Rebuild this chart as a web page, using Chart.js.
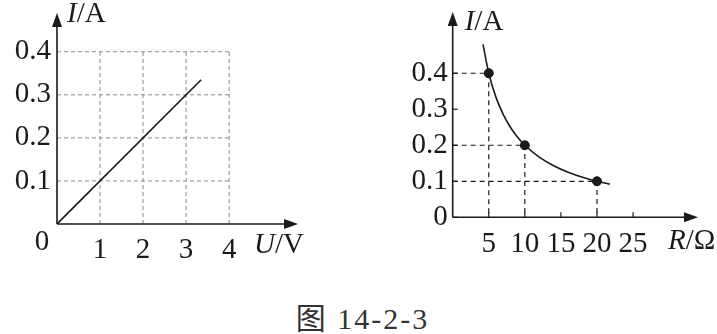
<!DOCTYPE html>
<html>
<head>
<meta charset="utf-8">
<script src="https://cdn.jsdelivr.net/npm/chart.js@4"></script>
<style>
  body { margin: 0; background: #fff; width: 717px; height: 334px; position: relative; overflow: hidden; }
  canvas { position: absolute; top: 0; }
  #left { left: 0; }
  #right { left: 380px; }
  #caption { position: absolute; left: 0; width: 717px; top: 294px; text-align: center; font: 30px "Liberation Serif", "Noto Sans CJK SC", serif; color: #333; letter-spacing: 2px; padding-left: 4px; }
</style>
</head>
<body>
<canvas id="left" width="340" height="280"></canvas>
<canvas id="right" width="337" height="280"></canvas>
<div id="caption">图 14-2-3</div>
<script>
// left chart: I-U, straight line through origin
var uTicks = [1, 2, 3, 4];
var iTicksL = [0.1, 0.2, 0.3, 0.4];
var lineU = [0, 3.35];
var lineI = [0, 0.335];

// right chart: I-R, curve with three marked points
var rTicks = [5, 10, 15, 20, 25];
var iTicksR = [0, 0.1, 0.2, 0.3, 0.4];
var pointR = [5, 10, 20];
var pointI = [0.4, 0.2, 0.1];
var curveR = [4.2, 5, 6, 7, 8, 9, 10, 12, 14, 16, 18, 20, 21.8];
var curveI = [0.48, 0.4, 0.333, 0.286, 0.25, 0.222, 0.2, 0.167, 0.143, 0.125, 0.111, 0.1, 0.092];

var FONT = '"Liberation Serif", "Times New Roman", serif';
var INK = '#1a1a1a';
var FS = 29;

function pts(xs, ys) {
  return xs.map(function (x, i) { return {x: x, y: ys[i]}; });
}

function line(ctx, x1, y1, x2, y2) {
  ctx.beginPath();
  ctx.moveTo(x1, y1);
  ctx.lineTo(x2, y2);
  ctx.stroke();
}

function drawAxes(chart) {
  var ctx = chart.ctx, a = chart.chartArea;
  ctx.save();
  ctx.strokeStyle = INK;
  ctx.fillStyle = INK;
  ctx.lineWidth = 1.6;
  line(ctx, a.left, a.bottom, a.left, a.top + 8);
  line(ctx, a.left, a.bottom, a.right - 8, a.bottom);
  // arrow heads
  ctx.beginPath();
  ctx.moveTo(a.left, a.top);
  ctx.lineTo(a.left - 5, a.top + 14);
  ctx.lineTo(a.left + 5, a.top + 14);
  ctx.closePath();
  ctx.fill();
  ctx.beginPath();
  ctx.moveTo(a.right, a.bottom);
  ctx.lineTo(a.right - 14, a.bottom - 5);
  ctx.lineTo(a.right - 14, a.bottom + 5);
  ctx.closePath();
  ctx.fill();
  ctx.restore();
}

// "I/A" style label: italic letter, upright rest
function axisLabel(ctx, x, y, italicPart, rest) {
  ctx.save();
  ctx.fillStyle = INK;
  ctx.textBaseline = 'alphabetic';
  ctx.textAlign = 'left';
  ctx.font = 'italic ' + FS + 'px ' + FONT;
  ctx.fillText(italicPart, x, y);
  var w = ctx.measureText(italicPart).width;
  ctx.font = FS + 'px ' + FONT;
  ctx.fillText(rest, x + w, y);
  ctx.restore();
}

var fixedTicks = function (values) {
  return function (scale) {
    scale.ticks = values.map(function (v) { return {value: v}; });
  };
};

// keep chart area exactly where the layout padding puts it
function fixSize(prop, size) {
  return function (s) {
    s[prop] = size;
    s.paddingTop = s.paddingBottom = s.paddingLeft = s.paddingRight = 0;
  };
}

var leftPlugin = {
  id: 'leftDeco',
  beforeDatasetsDraw: function (chart) {
    var ctx = chart.ctx, xs = chart.scales.x, ys = chart.scales.y;
    var uMax = uTicks[uTicks.length - 1], iMax = iTicksL[iTicksL.length - 1];
    ctx.save();
    ctx.strokeStyle = '#8a8a8a';
    ctx.lineWidth = 1;
    ctx.setLineDash([4, 3]);
    uTicks.forEach(function (v) {
      line(ctx, xs.getPixelForValue(v), ys.getPixelForValue(0), xs.getPixelForValue(v), ys.getPixelForValue(iMax));
    });
    iTicksL.forEach(function (v) {
      line(ctx, xs.getPixelForValue(0), ys.getPixelForValue(v), xs.getPixelForValue(uMax), ys.getPixelForValue(v));
    });
    ctx.restore();
  },
  afterDatasetsDraw: function (chart) {
    var ctx = chart.ctx, a = chart.chartArea;
    drawAxes(chart);
    axisLabel(ctx, a.left + 10, 22, 'I', '/A');
    axisLabel(ctx, a.right - 44, 253, 'U', '/V');
    ctx.save();
    ctx.fillStyle = INK;
    ctx.font = FS + 'px ' + FONT;
    ctx.textAlign = 'center';
    ctx.fillText('0', a.left - 15, 250);
    ctx.restore();
  }
};

var rightPlugin = {
  id: 'rightDeco',
  afterDatasetsDraw: function (chart) {
    var ctx = chart.ctx, a = chart.chartArea, xs = chart.scales.x, ys = chart.scales.y;
    drawAxes(chart);
    ctx.save();
    ctx.strokeStyle = INK;
    ctx.lineWidth = 1.2;
    rTicks.forEach(function (v) {
      var px = xs.getPixelForValue(v);
      line(ctx, px, a.bottom, px, a.bottom - 5);
    });
    iTicksR.forEach(function (v) {
      var py = ys.getPixelForValue(v);
      line(ctx, a.left, py, a.left + 5, py);
    });
    ctx.restore();
    axisLabel(ctx, a.left + 12, 30, 'I', '/A');
    axisLabel(ctx, a.right - 30, 249, 'R', '/Ω');
  }
};

var tickFont = {family: FONT, size: FS};

new Chart(document.getElementById('left'), {
  type: 'line',
  data: {
    datasets: [{
      data: pts(lineU, lineI),
      borderColor: INK,
      borderWidth: 1.6,
      pointRadius: 0,
      fill: false
    }]
  },
  options: {
    responsive: false,
    animation: false,
    devicePixelRatio: 1,
    layout: {padding: {top: 13, right: 42, left: 0, bottom: 0}},
    plugins: {legend: {display: false}, tooltip: {enabled: false}},
    scales: {
      x: {
        type: 'linear', min: 0, max: 5.6,
        afterBuildTicks: fixedTicks(uTicks),
        afterFit: fixSize('height', 56),
        grid: {display: false, drawTicks: false},
        border: {display: false},
        ticks: {font: tickFont, color: INK, padding: 9, maxRotation: 0, autoSkip: false}
      },
      y: {
        type: 'linear', min: 0, max: 0.49,
        afterBuildTicks: fixedTicks(iTicksL),
        afterFit: fixSize('width', 57),
        grid: {display: false, drawTicks: false},
        border: {display: false},
        ticks: {font: tickFont, color: INK, padding: 6, autoSkip: false,
          callback: function (v) { return v.toFixed(1); }}
      }
    }
  },
  plugins: [leftPlugin]
});

var guideSets = pointR.map(function (r, i) {
  return {
    data: [{x: 0, y: pointI[i]}, {x: r, y: pointI[i]}, {x: r, y: 0}],
    borderColor: INK,
    borderWidth: 1.2,
    borderDash: [5, 4],
    pointRadius: 0,
    tension: 0,
    fill: false
  };
});

new Chart(document.getElementById('right'), {
  type: 'line',
  data: {
    datasets: guideSets.concat([{
      data: pts(curveR, curveI),
      borderColor: INK,
      borderWidth: 1.6,
      pointRadius: 0,
      cubicInterpolationMode: 'monotone',
      fill: false
    }, {
      data: pts(pointR, pointI),
      showLine: false,
      pointRadius: 4.5,
      pointBackgroundColor: INK,
      pointBorderColor: INK
    }])
  },
  options: {
    responsive: false,
    animation: false,
    devicePixelRatio: 1,
    layout: {padding: {top: 12, right: 19, left: 0, bottom: 0}},
    plugins: {legend: {display: false}, tooltip: {enabled: false}},
    scales: {
      x: {
        type: 'linear', min: 0, max: 34,
        afterBuildTicks: fixedTicks(rTicks),
        afterFit: fixSize('height', 62.7),
        grid: {display: false, drawTicks: false},
        border: {display: false},
        ticks: {font: tickFont, color: INK, padding: 10, maxRotation: 0, autoSkip: false}
      },
      y: {
        type: 'linear', min: 0, max: 0.57,
        afterBuildTicks: fixedTicks(iTicksR),
        afterFit: fixSize('width', 72.7),
        grid: {display: false, drawTicks: false},
        border: {display: false},
        ticks: {font: tickFont, color: INK, padding: 5, autoSkip: false,
          callback: function (v) { return v === 0 ? '0' : v.toFixed(1); }}
      }
    }
  },
  plugins: [rightPlugin]
});
</script>
</body>
</html>
